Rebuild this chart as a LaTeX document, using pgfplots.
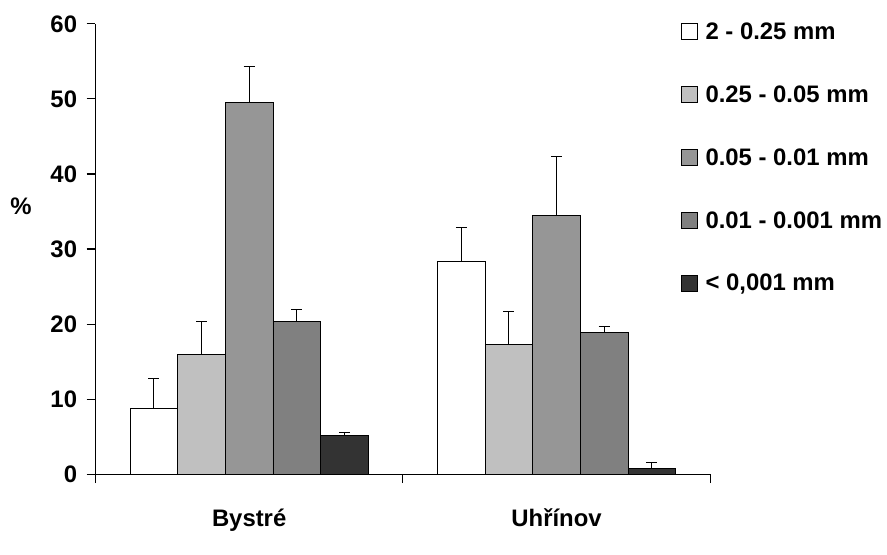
\documentclass[border=0pt]{standalone}
\usepackage{pgfplots}
\pgfplotsset{compat=1.18}
\usepackage{fontspec}
\setmainfont{Liberation Sans}
\definecolor{c1}{RGB}{255,255,255}
\definecolor{c2}{RGB}{192,192,192}
\definecolor{c3}{RGB}{150,150,150}
\definecolor{c4}{RGB}{128,128,128}
\definecolor{c5}{RGB}{51,51,51}
\begin{document}
\begin{tikzpicture}
\begin{axis}[
  scale only axis,
  width=618bp, height=452.7bp,
  xmin=0, xmax=2, ymin=0, ymax=60,
  axis x line*=bottom, axis y line*=left,
  axis line style={-, line width=1.1bp, black},
  ytick={0,10,...,60},
  xtick={0.5,1.5},
  xticklabels={Bystr\'e, Uh\v{r}\'inov},
  minor xtick={0,1,2},
  major x tick style={draw=none},
  tick align=outside,
  tick style={black, line width=1.1bp},
  major tick length=9bp,
  minor tick length=9bp,
  /pgf/number format/assume math mode=true,
  tick label style={font=\fontsize{24bp}{28bp}\selectfont\bfseries},
  xticklabel style={yshift=-22bp},
  yticklabel style={xshift=-6bp},
  ylabel={\%},
  ylabel style={rotate=-90, font=\fontsize{24bp}{28bp}\selectfont\bfseries, at={(axis description cs:-0.121,0.594)}, anchor=center},
  ybar, bar width=0.155,
  clip=false,
  legend style={draw=none, fill=none, at={(axis description cs:0.947,1.012)}, anchor=north west,
    font=\fontsize{24bp}{28bp}\selectfont\bfseries, row sep=41bp, cells={anchor=west}},
  legend image code/.code={\draw[#1,draw=black,line width=0.8bp] (0bp,-8bp) rectangle (16bp,8bp); \path (22bp,0bp);},
  error bars/y dir=plus, error bars/y explicit,
  error bars/error mark options={black, line width=1.1bp, mark size=5.5bp, rotate=90},
  error bars/error bar style={black, line width=1.1bp},
]
\addplot[fill=c1, draw=black, line width=0.9bp, bar shift=-0.31] coordinates {(0.5,8.75) +- (0,3.95) (1.5,28.4) +- (0,4.5)};
\addplot[fill=c2, draw=black, line width=0.9bp, bar shift=-0.155] coordinates {(0.5,15.96) +- (0,4.34) (1.5,17.3) +- (0,4.4)};
\addplot[fill=c3, draw=black, line width=0.9bp, bar shift=0] coordinates {(0.5,49.5) +- (0,4.8) (1.5,34.5) +- (0,7.8)};
\addplot[fill=c4, draw=black, line width=0.9bp, bar shift=0.155] coordinates {(0.5,20.4) +- (0,1.6) (1.5,18.9) +- (0,0.8)};
\addplot[fill=c5, draw=black, line width=0.9bp, bar shift=0.31] coordinates {(0.5,5.2) +- (0,0.4) (1.5,0.76) +- (0,0.84)};
\legend{2 - 0.25 mm, 0.25 - 0.05 mm, 0.05 - 0.01 mm, 0.01 - 0.001 mm, {< 0,001 mm}}
\path (rel axis cs:-0.1553,-0.1774) rectangle (rel axis cs:1.2799,1.053);
\end{axis}
\end{tikzpicture}
\end{document}
